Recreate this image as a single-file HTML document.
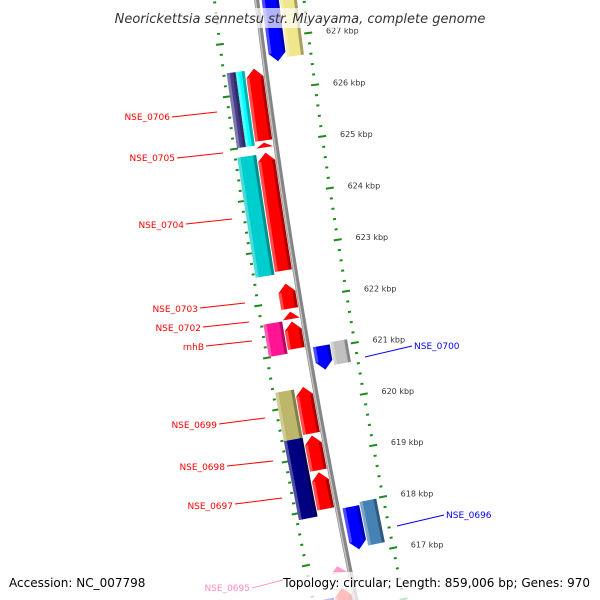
<!DOCTYPE html>
<html><head><meta charset="utf-8"><style>
html,body{margin:0;padding:0;background:#fff;width:600px;height:600px;overflow:hidden}
svg{display:block;overflow:hidden;font-family:"DejaVu Sans","Liberation Sans",sans-serif}
</style></head><body>
<svg id="map" width="600" height="600" viewBox="0 0 600 600" xmlns="http://www.w3.org/2000/svg">
<g id="rulers"></g>
<g id="backbone"></g>
<g id="genes"></g>
<g font-size="9">
 <g fill="#ff0000" stroke="#ff0000" stroke-width="1">
  <line x1="172" y1="117" x2="217" y2="112"/>
  <line x1="177" y1="158" x2="223" y2="153"/>
  <line x1="186" y1="224" x2="232" y2="219"/>
  <line x1="200" y1="308" x2="245" y2="303"/>
  <line x1="203" y1="327" x2="249" y2="322"/>
  <line x1="206" y1="346" x2="252" y2="341"/>
  <line x1="219" y1="424" x2="265" y2="418"/>
  <line x1="227" y1="466" x2="273" y2="461"/>
  <line x1="235" y1="504" x2="282" y2="498"/>
 </g>
 <g fill="#ff0000" text-anchor="end">
  <text x="170" y="120">NSE_0706</text>
  <text x="175" y="161">NSE_0705</text>
  <text x="184" y="228">NSE_0704</text>
  <text x="198" y="312">NSE_0703</text>
  <text x="201" y="331">NSE_0702</text>
  <text x="204" y="350">rnhB</text>
  <text x="217" y="428">NSE_0699</text>
  <text x="225" y="470">NSE_0698</text>
  <text x="233" y="509">NSE_0697</text>
 </g>
 <line x1="365" y1="357" x2="412" y2="346" stroke="#0000ff"/>
 <text x="414" y="349" fill="#0000ff">NSE_0700</text>
 <line x1="397" y1="526" x2="444" y2="515" stroke="#0000ff"/>
 <text x="446" y="518" fill="#0000ff">NSE_0696</text>
</g>
<rect x="105" y="8" width="390" height="20" fill="#fff" opacity="0.7"/>
<text x="300" y="23" text-anchor="middle" font-size="13" font-style="italic" fill="#333">Neorickettsia sennetsu str. Miyayama, complete genome</text>
<rect x="0" y="572" width="600" height="28" fill="#fff" opacity="0.75"/>
<text x="9" y="587" font-size="12" fill="#000">Accession: NC_007798</text>
<line x1="252" y1="588" x2="283" y2="580" stroke="#ff99cc"/>
<text x="250" y="591" text-anchor="end" font-size="9" fill="#ff88c8">NSE_0695</text>
<text x="590" y="587" text-anchor="end" font-size="12" fill="#000">Topology: circular; Length: 859,006 bp; Genes: 970</text>
</svg>
<script>
// gene data (kbp)
var geneStart = [625.08,624.95,622.58,621.85,621.65,621.08,619.44,618.73,617.98, 625.01,625.01,622.53,621.01,619.39,617.87, 626.54,620.59,617.10, 626.60,620.65,617.14, 616.73,615.50,615.50];
var geneEnd   = [626.46,625.04,624.85,622.33,621.79,621.60,620.34,619.40,618.69, 626.44,626.44,624.83,621.63,620.32,619.39, 628.60,621.05,617.93, 628.60,621.09,617.99, 616.87,616.45,616.30];
var geneStrand= [1,1,1,1,1,1,1,1,1, 0,0,0,0,0,0, -1,-1,-1, 0,0,0, 1,1,0];
var geneLane  = ["L1","L1","L1","L1","L1","L1","L1","L1","L1","L2b","L2a","L2","L2","L2","L2","R1","R1","R1","R2","R2","R2","L1","L1","L2"];
var geneColor = ["#ff0000","#ff0000","#ff0000","#ff0000","#ff0000","#ff0000","#ff0000","#ff0000","#ff0000","#483d8b","#00ffff","#00cdcd","#ff1493","#bdb76b","#000080","#0000ff","#0000ff","#0000ff","#f0e68c","#c0c0c0","#4682b4","#ff99cc","#ff0000","#0000ff"];
var tickLabels = [617,618,619,620,621,622,623,624,625,626,627];

var NS="http://www.w3.org/2000/svg";
var cx=7522, cy=-893, R=7320, RR=7273, RL=7362;
var lanes={L1:[3,20],L2:[21,40],L2a:[21,30],L2b:[30,39],R1:[-5,-22],R2:[-23,-40]};
function ang(k){return (172.685-(627-k)*0.4112)*Math.PI/180;}
function P(r,k){var a=ang(k);return [cx+r*Math.cos(a), cy+r*Math.sin(a)];}
function fmt(p){return p[0].toFixed(2)+","+p[1].toFixed(2);}
function arc(r,k1,k2,n){var pts=[];for(var i=0;i<=n;i++){pts.push(P(r,k1+(k2-k1)*i/n));}return pts;}
function poly(parent,pts,fill,op){var e=document.createElementNS(NS,"polygon");e.setAttribute("points",pts.map(fmt).join(" "));e.setAttribute("fill",fill);if(op!=null)e.setAttribute("fill-opacity",op);parent.appendChild(e);return e;}

// backbone
var bb=document.getElementById("backbone");
function pl(parent,r,col,w){var e=document.createElementNS(NS,"polyline");e.setAttribute("points",arc(r,615.2,628.4,40).map(fmt).join(" "));e.setAttribute("fill","none");e.setAttribute("stroke",col);e.setAttribute("stroke-width",w);parent.appendChild(e);return e;}
var b1=pl(bb,R,"#858585",5);


var b2=pl(bb,R+1.2,"#c4c4c4",1.4);



// rulers
var rg=document.getElementById("rulers");
function tick(r,k,len,w){var a=P(r-len/2,k),b=P(r+len/2,k);var e=document.createElementNS(NS,"line");e.setAttribute("x1",a[0]);e.setAttribute("y1",a[1]);e.setAttribute("x2",b[0]);e.setAttribute("y2",b[1]);e.setAttribute("stroke","#1e8a1e");e.setAttribute("stroke-width",w);rg.appendChild(e);return e;}
for(var i=0;i<=70;i++){var k=615+i*0.2;var major=Math.abs(k-Math.round(k))<1e-6;
 var t1=tick(RR,k,major?8:3,2);
 
 
 var t2=tick(RL,k,major?8:3,2);
 
 
}
tickLabels.forEach(function(k){var p=P(RR-18,k);var t=document.createElementNS(NS,"text");t.setAttribute("x",p[0]);t.setAttribute("y",p[1]+3);t.setAttribute("font-size","8");t.setAttribute("fill","#333");t.textContent=k+" kbp";
 
 
 rg.appendChild(t);});

// genes
var gg=document.getElementById("genes");
var HEAD=0.16;
for(var i=0;i<geneStart.length;i++){
 var k1=geneStart[i],k2=geneEnd[i],s=geneStrand[i],ln=lanes[geneLane[i]];
 var ri=R+Math.min(ln[0],ln[1]), ro=R+Math.max(ln[0],ln[1]), rm=(ri+ro)/2;
 var g=document.createElementNS(NS,"g");
 
 
 gg.appendChild(g);
 var h=Math.min(HEAD,k2-k1), pts, bk1=k1, bk2=k2;
 if(s>0){bk2=k2-h;pts=arc(ri,k1,bk2,6).concat([P(rm,k2)]).concat(arc(ro,bk2,k1,6));}
 else if(s<0){bk1=k1+h;pts=arc(ri,bk1,k2,6).concat(arc(ro,k2,bk1,6)).concat([P(rm,k1)]);}
 else{pts=arc(ri,k1,k2,6).concat(arc(ro,k2,k1,6));}
 poly(g,pts,geneColor[i]);
 if(bk2-bk1>0.02){
  poly(g,arc(ri,bk1,bk2,6).concat(arc(ri+3,bk2,bk1,6)),"#000",0.3);
  poly(g,arc(ro-3,bk1,bk2,6).concat(arc(ro,bk2,bk1,6)),"#fff",0.3);
 }
}
</script>
</body></html>
